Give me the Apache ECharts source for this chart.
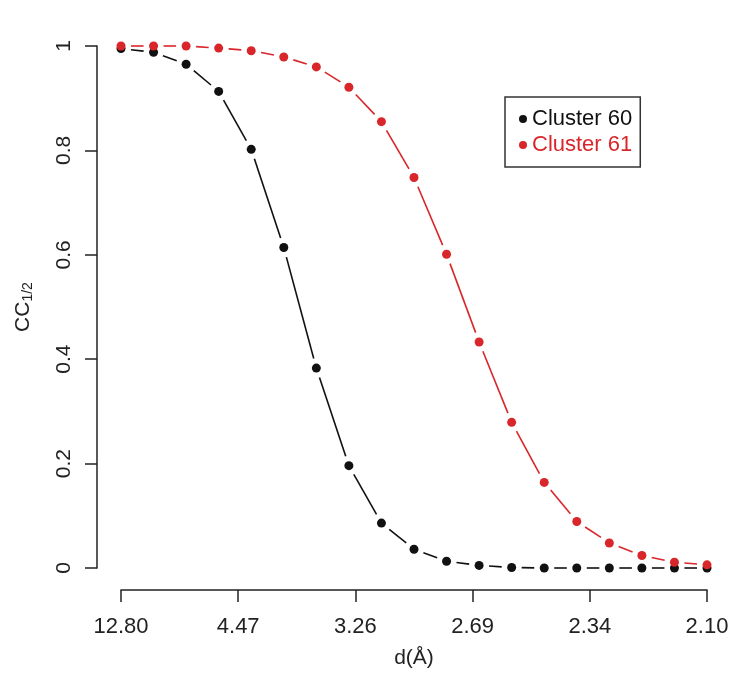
<!DOCTYPE html>
<html>
<head>
<meta charset="utf-8">
<script src="https://cdn.jsdelivr.net/npm/echarts@6/dist/echarts.min.js"></script>
<style>
html,body{margin:0;padding:0;background:#fff;}
#chart{width:733px;height:683px;}
</style>
</head>
<body>
<div id="chart"></div>
<script>
// Shells are evenly spaced in 1/d^2; x = shell index (0..18)
const tickLabels = ['12.80', '4.47', '3.26', '2.69', '2.34', '2.10'];
const seriesNames = ['Cluster 60', 'Cluster 61'];
const cluster60 = [0.995, 0.988, 0.965, 0.913, 0.802, 0.614, 0.383, 0.196, 0.086, 0.036, 0.013, 0.005, 0.001, 0, 0, 0, 0, 0, 0];
const cluster61 = [1.0, 1.0, 1.0, 0.996, 0.991, 0.979, 0.960, 0.921, 0.855, 0.748, 0.601, 0.433, 0.279, 0.164, 0.089, 0.048, 0.024, 0.011, 0.006];

const BLACK = '#111111';
const RED = '#d8262a';
const AXC = '#222222';
const FONT = 'Liberation Sans, Arial, Helvetica, sans-serif';
const GAP = 10; // R type="b" gap around points, px

function pts(arr){ return arr.map((v,i)=>[i,v]); }
function segs(arr){ const out=[]; for(let i=0;i<arr.length-1;i++) out.push([i, arr[i], arr[i+1]]); return out; }

function segSeries(name, data, color, z){
  return {
    name: name + ' line', type:'custom', z: z, silent:true, animation:false,
    data: segs(data),
    encode:{x:0, y:[1,2]},
    renderItem: function(params, api){
      const i = api.value(0);
      const p1 = api.coord([i, api.value(1)]);
      const p2 = api.coord([i+1, api.value(2)]);
      const dx = p2[0]-p1[0], dy = p2[1]-p1[1];
      const L = Math.sqrt(dx*dx+dy*dy);
      if (L <= 2*GAP) return null;
      const ux = dx/L, uy = dy/L;
      return {type:'line', shape:{x1:p1[0]+ux*GAP, y1:p1[1]+uy*GAP, x2:p2[0]-ux*GAP, y2:p2[1]-uy*GAP},
              style:{stroke: color, lineWidth:1.6}};
    }
  };
}
function markers(name, data, color, z){
  return {name: name, type:'scatter', data: pts(data), symbol:'circle', symbolSize:9, z: z,
    itemStyle:{color: color, opacity:1}, animation:false};
}

const chart = echarts.init(document.getElementById('chart'), null, {renderer:'canvas'});
chart.setOption({
  backgroundColor:'#ffffff',
  animation:false,
  textStyle:{fontFamily: FONT},
  grid:{left:121, right:26, top:46, bottom:115},
  legend:{
    orient:'vertical', left:505, top:97,
    data:[
      {name: seriesNames[0], textStyle:{color: BLACK}},
      {name: seriesNames[1], textStyle:{color: RED}}
    ],
    icon:'circle', itemWidth:8, itemHeight:8, itemGap:4,
    textStyle:{fontSize:22, fontFamily: FONT, lineHeight:22},
    borderColor:'#333', borderWidth:1.5, borderRadius:0,
    padding:[11,8,11,14], backgroundColor:'#fff'
  },
  xAxis:{
    type:'value', min:0, max:18, interval:3.6, offset:22,
    axisLine:{show:true, onZero:false, lineStyle:{color:AXC, width:1.5}},
    axisTick:{show:true, length:12, lineStyle:{color:AXC, width:1.5}},
    splitLine:{show:false},
    axisLabel:{fontSize:22, color:AXC, margin:26, fontFamily: FONT,
      formatter: v => tickLabels[Math.round(v/3.6)]},
    name:'d(Å)', nameLocation:'middle', nameGap:58,
    nameTextStyle:{fontSize:21, color:AXC, fontFamily: FONT}
  },
  yAxis:{
    type:'value', min:0, max:1, interval:0.2, offset:24,
    axisLine:{show:true, onZero:false, lineStyle:{color:AXC, width:1.5}},
    axisTick:{show:true, length:12, lineStyle:{color:AXC, width:1.5}},
    splitLine:{show:false},
    axisLabel:{fontSize:21, color:AXC, margin:22, rotate:90, fontFamily: FONT,
      formatter: v => (v===0||v===1) ? String(v) : v.toFixed(1)},
    name:'{m|CC}{s|1/2}', nameLocation:'middle', nameGap:62, nameRotate:90,
    nameTextStyle:{fontFamily: FONT, color:AXC,
      rich:{m:{fontSize:21, color:AXC, fontFamily: FONT},
            s:{fontSize:14, color:AXC, fontFamily: FONT, verticalAlign:'bottom', padding:[10,0,0,0]}}}
  },
  series:[
    segSeries(seriesNames[0], cluster60, BLACK, 2),
    segSeries(seriesNames[1], cluster61, RED, 3),
    markers(seriesNames[0], cluster60, BLACK, 4),
    markers(seriesNames[1], cluster61, RED, 5)
  ]
});
</script>
</body>
</html>
